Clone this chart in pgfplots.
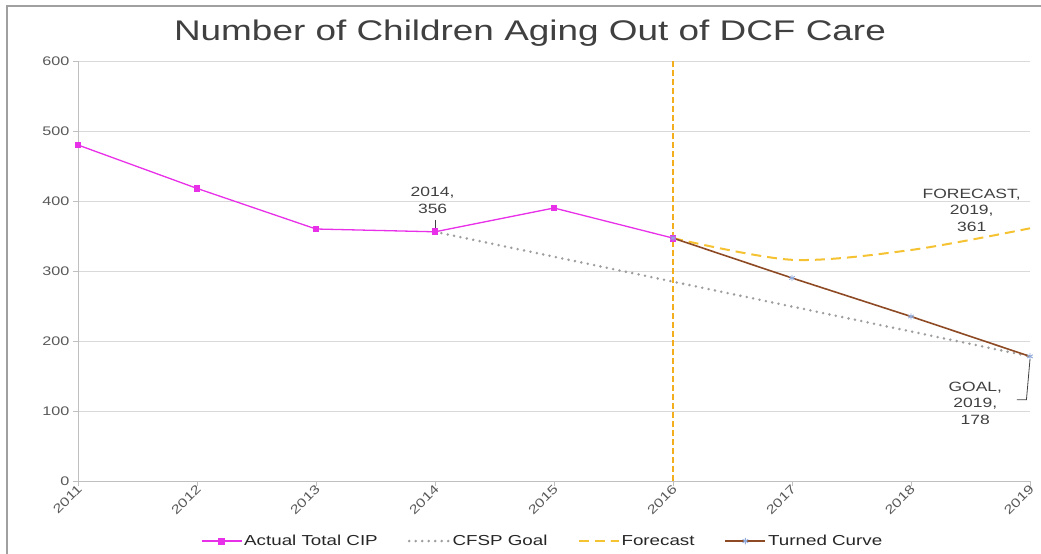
\documentclass[border=0pt]{standalone}
\usepackage{fontspec}
\setmainfont{Liberation Sans}[FakeStretch=1.3]
\usepackage{pgfplots}
\pgfplotsset{compat=1.18}
\definecolor{actual}{HTML}{E930E9}
\definecolor{goalgray}{HTML}{9E9E9E}
\definecolor{forecast}{HTML}{F5C232}
\definecolor{vline}{HTML}{F2AE1C}
\definecolor{turned}{HTML}{8E4A24}
\definecolor{starblue}{HTML}{8FAADC}
\definecolor{gridgray}{HTML}{D9D9D9}
\definecolor{axisgray}{HTML}{BFBFBF}
\definecolor{tickgray}{HTML}{595959}
\definecolor{titlegray}{HTML}{404040}
\definecolor{framegray}{HTML}{A0A0A0}
\newcommand\titlefont{\fontsize{28.5}{34}\selectfont}
\newcommand\tickfont{\fontsize{12.5}{15}\selectfont}
\newcommand\legfont{\fontsize{14.5}{17}\selectfont}
\newcommand\annfont{\fontsize{13.5}{16.5}\selectfont}
\begin{document}
\begin{tikzpicture}
\path[use as bounding box] (0bp,0bp) rectangle (1041bp,554bp);
\draw[framegray, line width=1.5bp] (7bp,0bp) -- (7bp,548bp) -- (1041bp,548bp);
\node[font=\titlefont, text=titlegray] at (530bp,521bp) {Number of Children Aging Out of DCF Care};
\begin{axis}[
  at={(78bp,73bp)}, anchor=south west, scale only axis,
  width=952bp, height=420bp,
  xmin=2011, xmax=2019, ymin=0, ymax=600,
  axis x line=bottom, axis y line=left,
  axis line style={-, draw=axisgray, line width=0.8bp},
  xtick={2011,2012,...,2019}, ytick={0,100,...,600},
  tick align=outside, major tick length=5bp,
  tick style={draw=axisgray, line width=0.8bp},
  ymajorgrids, grid style={draw=gridgray, line width=0.8bp},
  x tick label style={rotate=45, anchor=east, font=\tickfont, text=tickgray, xshift=4bp, yshift=-2bp},
  y tick label style={font=\tickfont, text=tickgray},
  /pgf/number format/assume math mode=true,
  /pgf/number format/1000 sep={},
  clip=false,
  legend style={at={(0.488,-0.143)}, anchor=center, draw=none, fill=none, font=\legfont, text=black!85,
    /tikz/every even column/.append style={column sep=28bp}},
  legend columns=4,
  legend cell align=left,
  legend image code/.code={\draw[mark repeat=2,mark phase=2] plot coordinates {(0bp,0bp) (20bp,0bp) (40bp,0bp)};},
]
\addplot[vline, line width=2.2bp, dash pattern=on 6bp off 3bp, forget plot] coordinates {(2016,0) (2016,600)};
\addplot[actual, line width=1.3bp, mark=square*, mark size=2.8bp] coordinates {
(2011,480) (2012,418) (2013,360) (2014,356) (2015,390) (2016,347)};
\addlegendentry{Actual Total CIP}
\addplot[goalgray, line width=2.8bp, dash pattern=on 0bp off 6.5bp, line cap=round] coordinates {
(2014,356) (2015,320.4) (2016,284.8) (2017,249.2) (2018,213.6) (2019,178)};
\addlegendentry{CFSP Goal}
\addplot[forecast, line width=2bp, dash pattern=on 10bp off 6bp, smooth] coordinates {
(2016,347) (2017,316) (2018,330) (2019,361)};
\addlegendentry{Forecast}
\addplot[turned, line width=1.6bp, mark=asterisk, mark size=3.2bp, mark options={starblue, line width=0.9bp}] coordinates {
(2016,347) (2017,290) (2018,235) (2019,178)};
\addlegendentry{Turned Curve}
\node[font=\annfont, text=titlegray, align=center] at (axis cs:2013.98,401) {2014,\\356};
\draw[titlegray, line width=0.8bp] (axis cs:2014,373) -- (axis cs:2014,359);
\node[font=\annfont, text=titlegray, align=center] at (axis cs:2018.51,387) {FORECAST,\\2019,\\361};
\node[font=\annfont, text=titlegray, align=center] at (axis cs:2018.54,111) {GOAL,\\2019,\\178};
\draw[titlegray, line width=0.8bp] (axis cs:2019,174) -- (axis cs:2018.97,116) -- (axis cs:2018.89,116);
\end{axis}
\end{tikzpicture}
\end{document}
